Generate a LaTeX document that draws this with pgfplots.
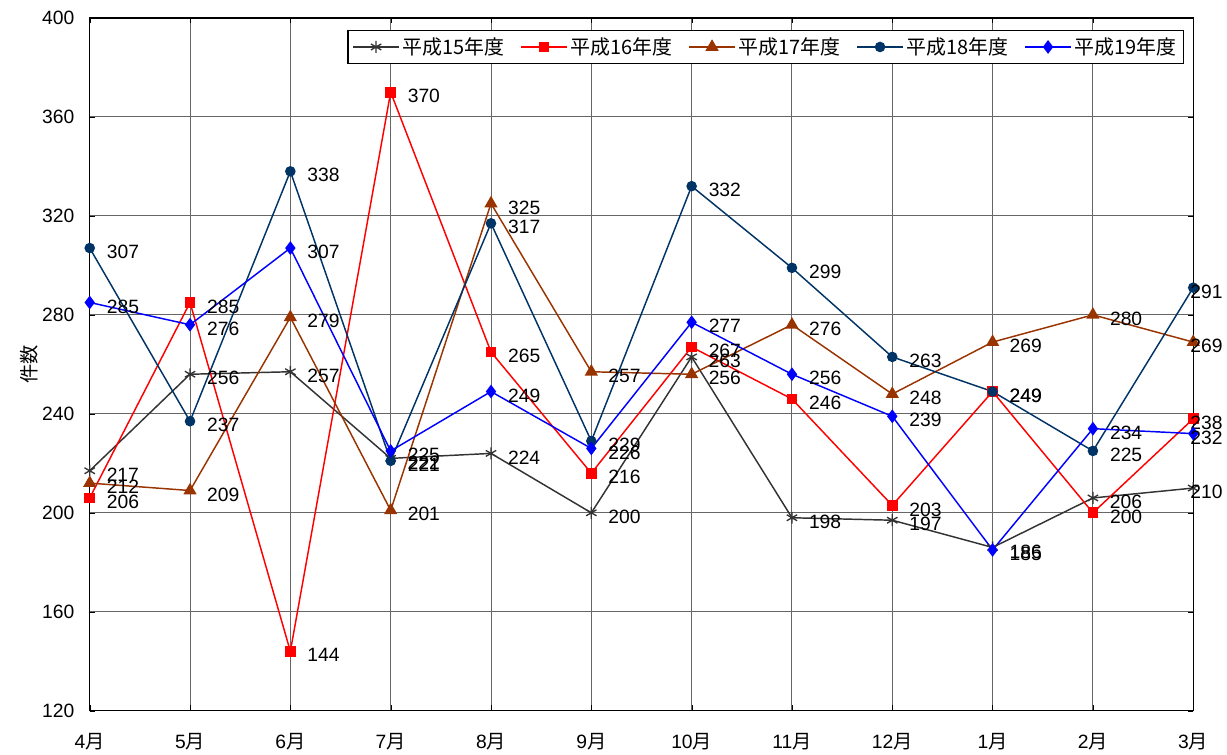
\documentclass[border=0pt]{standalone}
\usepackage{pgfplots}
\pgfplotsset{compat=1.18}
\usepackage{fontspec}
\setmainfont{Liberation Sans}
\newfontfamily\cjk{Noto Sans CJK JP}
\definecolor{c15}{HTML}{333333}
\definecolor{c16}{HTML}{FF0000}
\definecolor{c17}{HTML}{993300}
\definecolor{c18}{HTML}{003366}
\definecolor{c19}{HTML}{0000FF}
\begin{document}
\begin{tikzpicture}
\begin{axis}[
  name=myaxis,
  scale only axis, width=830.25pt, height=521.25pt,
  xmin=0, xmax=11, ymin=120, ymax=400,
  xtick={0,...,11},
  xticklabels={4{\cjk 月},5{\cjk 月},6{\cjk 月},7{\cjk 月},8{\cjk 月},9{\cjk 月},10{\cjk 月},11{\cjk 月},12{\cjk 月},1{\cjk 月},2{\cjk 月},3{\cjk 月}},
  ytick={120,160,...,400},
  grid=major, major grid style={black!60, line width=0.7pt},
  axis line style={black, line width=1.1pt},
  tick style={black}, major tick length=4pt, tick align=inside,
  font=\fontsize{14.5}{17}\selectfont,
  /pgf/number format/assume math mode=true,
  ylabel={\cjk 件数}, ylabel style={yshift=-4pt},
  xticklabel style={yshift=-13.5pt},
  yticklabel style={xshift=-8pt},
  legend columns=5,
  legend style={at={(0.9915,0.983)}, anchor=north east, draw=black, line width=0.8pt,
    font=\cjk\fontsize{15}{18}\selectfont, inner sep=3.5pt,
    /tikz/every even column/.append style={column sep=10.5pt}},
  legend image code/.code={\draw[mark repeat=2,mark phase=2] plot coordinates {(0cm,0cm)(0.6cm,0cm)(1.2cm,0cm)};},
  nodes near coords,
  every node near coord/.append style={anchor=west, text=black, xshift=9pt, yshift=-3pt, font=\fontsize{14.5}{17}\selectfont},
  coordinate style/.condition={x==11}{xshift=-15pt},
  every axis plot/.append style={line width=1.1pt},
]
\addplot[c15, mark=asterisk, mark size=4.5pt, mark options={line width=1pt}] coordinates {
(0,217)(1,256)(2,257)(3,222)(4,224)(5,200)(6,263)(7,198)(8,197)(9,186)(10,206)(11,210)};
\addlegendentry{平成15年度}
\addplot[c16, mark=square*, mark size=3.5pt] coordinates {
(0,206)(1,285)(2,144)(3,370)(4,265)(5,216)(6,267)(7,246)(8,203)(9,249)(10,200)(11,238)};
\addlegendentry{平成16年度}
\addplot[c17, mark=triangle*, mark size=4.7pt] coordinates {
(0,212)(1,209)(2,279)(3,201)(4,325)(5,257)(6,256)(7,276)(8,248)(9,269)(10,280)(11,269)};
\addlegendentry{平成17年度}
\addplot[c18, mark=*, mark size=3.4pt] coordinates {
(0,307)(1,237)(2,338)(3,221)(4,317)(5,229)(6,332)(7,299)(8,263)(9,249)(10,225)(11,291)};
\addlegendentry{平成18年度}
\addplot[c19, mark=diamond*, mark size=4.3pt] coordinates {
(0,285)(1,276)(2,307)(3,225)(4,249)(5,226)(6,277)(7,256)(8,239)(9,185)(10,234)(11,232)};
\addlegendentry{平成19年度}
\end{axis}
\path (myaxis.south west) ++(-67.5pt,-31.5pt);
\path (myaxis.north east) ++(22.5pt,13.5pt);
\end{tikzpicture}
\end{document}
